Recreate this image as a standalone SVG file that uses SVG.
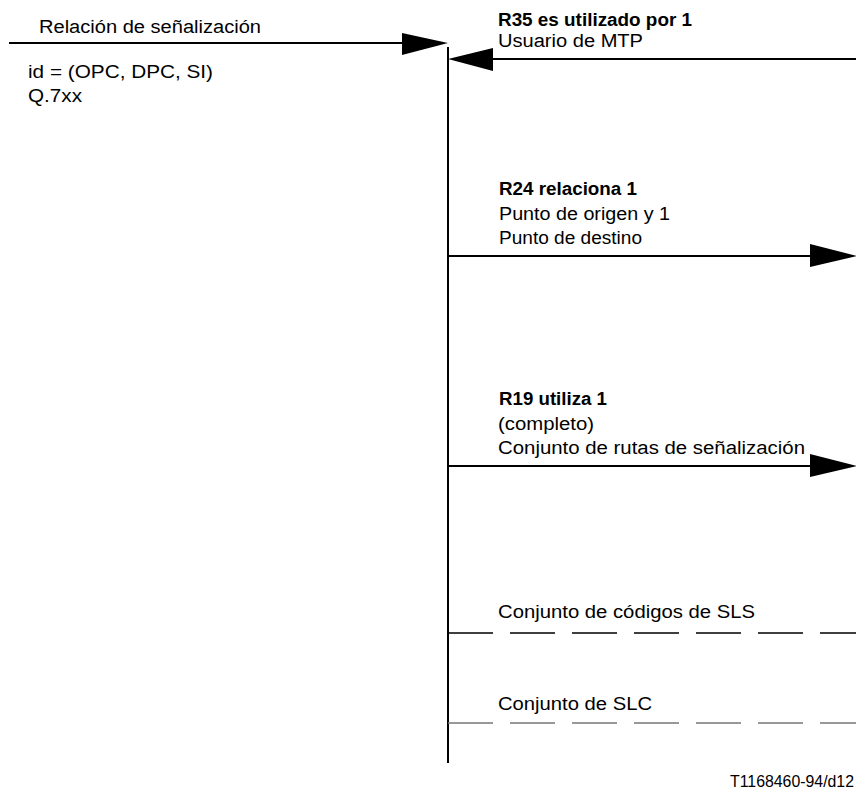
<svg xmlns="http://www.w3.org/2000/svg" width="856" height="790" viewBox="0 0 856 790">
<style>
text{font-family:"Liberation Sans",Arial,sans-serif;font-size:18px;fill:#000}
.b{font-weight:bold}
.ln{stroke:#000;stroke-width:2;fill:none}
.ds{stroke:#000;stroke-width:1.4;fill:none;stroke-dasharray:45 17}
.dg{stroke:#777;stroke-width:1.6;fill:none;stroke-dasharray:45 17}
.ah{fill:#000;stroke:none}
</style>
<rect width="856" height="790" fill="#fff"/>
<g id="relacion">
<text x="39" y="33" textLength="222" lengthAdjust="spacingAndGlyphs">Relación de señalización</text>
<text x="28" y="78" textLength="185" lengthAdjust="spacingAndGlyphs">id = (OPC, DPC, SI)</text>
<text x="28" y="102" textLength="54" lengthAdjust="spacingAndGlyphs">Q.7xx</text>
</g>
<g id="connectors">
<line class="ln" x1="9" y1="43" x2="404" y2="43"/>
<polygon class="ah" points="402,33 448,43 402,55"/>
<line class="ln" x1="448" y1="47" x2="448" y2="763"/>
<line class="ln" x1="491" y1="59" x2="856" y2="59"/>
<polygon class="ah" points="493,48 448,59 493,71"/>
<line class="ln" x1="448" y1="256" x2="812" y2="256"/>
<polygon class="ah" points="810,244 857,256 810,267"/>
<line class="ln" x1="448" y1="466" x2="812" y2="466"/>
<polygon class="ah" points="810,454 857,466 810,477"/>
<line class="ds" x1="448" y1="633" x2="856" y2="633"/>
<line class="dg" x1="448" y1="723" x2="856" y2="723"/>
</g>
<g id="r35">
<text class="b" x="498" y="26" textLength="194" lengthAdjust="spacingAndGlyphs">R35 es utilizado por 1</text>
<text x="498" y="47" textLength="145" lengthAdjust="spacingAndGlyphs">Usuario de MTP</text>
</g>
<g id="r24">
<text class="b" x="499" y="195" textLength="138" lengthAdjust="spacingAndGlyphs">R24 relaciona 1</text>
<text x="499" y="220" textLength="171" lengthAdjust="spacingAndGlyphs">Punto de origen y 1</text>
<text x="499" y="244" textLength="143" lengthAdjust="spacingAndGlyphs">Punto de destino</text>
</g>
<g id="r19">
<text class="b" x="499" y="405" textLength="108" lengthAdjust="spacingAndGlyphs">R19 utiliza 1</text>
<text x="498" y="430" textLength="96" lengthAdjust="spacingAndGlyphs">(completo)</text>
<text x="498" y="454" textLength="307" lengthAdjust="spacingAndGlyphs">Conjunto de rutas de señalización</text>
</g>
<g id="sls">
<text x="498" y="618" textLength="257" lengthAdjust="spacingAndGlyphs">Conjunto de códigos de SLS</text>
</g>
<g id="slc">
<text x="498" y="710" textLength="154" lengthAdjust="spacingAndGlyphs">Conjunto de SLC</text>
</g>
<text x="730" y="787" textLength="124" lengthAdjust="spacingAndGlyphs" style="font-size:16px">T1168460-94/d12</text>
</svg>
